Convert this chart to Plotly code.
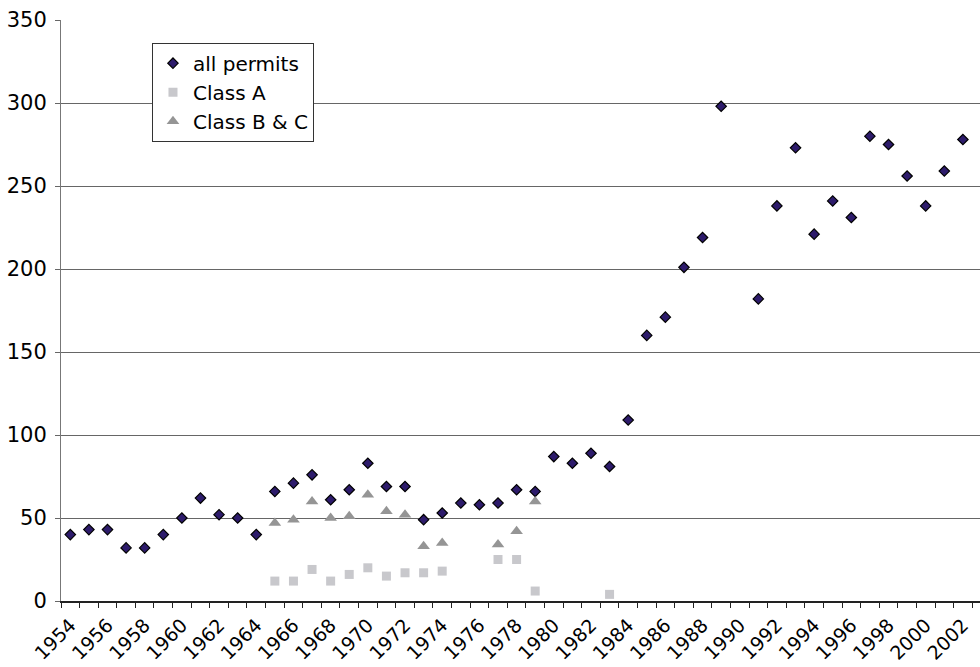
import plotly.graph_objects as go

years = list(range(1954, 2004))
all_permits = [40, 43, 43, 32, 32, 40, 50, 62, 52, 50,
               40, 66, 71, 76, 61, 67, 83, 69, 69, 49,
               53, 59, 58, 59, 67, 66, 87, 83, 89, 81,
               109, 160, 171, 201, 219, 298, None, 182, 238, 273,
               221, 241, 231, 280, 275, 256, 238, 259, 278, 221]

class_a_years = [1965, 1966, 1967, 1968, 1969, 1970, 1971, 1972, 1973, 1974, 1977, 1978, 1979, 1983]
class_a = [12, 12, 19, 12, 16, 20, 15, 17, 17, 18, 25, 25, 6, 4]

class_bc_years = [1965, 1966, 1967, 1968, 1969, 1970, 1971, 1972, 1973, 1974, 1977, 1978, 1979]
class_bc = [47, 49, 60, 50, 51, 64, 54, 52, 33, 35, 34, 42, 60]

tick_years = list(range(1954, 2004, 2))
tick_labels = [str(y) for y in tick_years]
y_ticks = [0, 50, 100, 150, 200, 250, 300, 350]

FONT = "DejaVu Sans, Liberation Sans, Arial, sans-serif"

fig = go.Figure()
fig.add_trace(go.Scatter(
    x=years, y=all_permits, mode="markers", name="all permits",
    marker=dict(symbol="diamond", size=8, color="#2d1b6b",
                line=dict(color="#000000", width=1.2)),
    cliponaxis=False,
))
fig.add_trace(go.Scatter(
    x=class_a_years, y=class_a, mode="markers", name="Class A",
    marker=dict(symbol="square", size=9, color="#c8c8cc", line=dict(width=0)),
    cliponaxis=False,
))
fig.add_trace(go.Scatter(
    x=class_bc_years, y=class_bc, mode="markers", name="Class B &amp; C",
    marker=dict(symbol="triangle-up", size=11, color="#959595", line=dict(width=0)),
    cliponaxis=False,
))

fig.update_layout(
    width=980, height=667,
    margin=dict(l=61, r=0, t=20, b=66, pad=0),
    paper_bgcolor="white", plot_bgcolor="white",
    font=dict(family=FONT, size=21, color="black"),
    showlegend=True,
    legend=dict(
        x=0.099, y=0.961, xanchor="left", yanchor="top",
        bgcolor="white", bordercolor="#333333", borderwidth=1,
        font=dict(family=FONT, size=20, color="black"),
        tracegroupgap=0, itemsizing="trace",
    ),
)

fig.update_xaxes(
    range=[1953.5, 2002.92], showgrid=False, zeroline=False, automargin=False,
    tickmode="array", tickvals=tick_years, ticktext=tick_labels,
    tickangle=-45, ticks="", tickfont=dict(size=19), ticklabelstandoff=4,
    showline=True, linecolor="#222222", linewidth=1.5,
    minor=dict(tick0=1953.5, dtick=1, ticks="outside", ticklen=5,
               tickcolor="#222222", tickwidth=1, showgrid=False),
)
fig.update_yaxes(
    range=[0, 350], tickmode="array", tickvals=y_ticks, automargin=False,
    showgrid=True, gridcolor="#666666", gridwidth=1, zeroline=False,
    ticks="outside", ticklen=5, tickcolor="#666666", ticklabelstandoff=4,
    showline=True, linecolor="#777777", linewidth=1,
    tickfont=dict(size=21),
)

fig.write_html(
    "out.html",
    config={"displayModeBar": False},
    post_script="document.body.style.margin='0';document.body.style.overflow='hidden';",
)
